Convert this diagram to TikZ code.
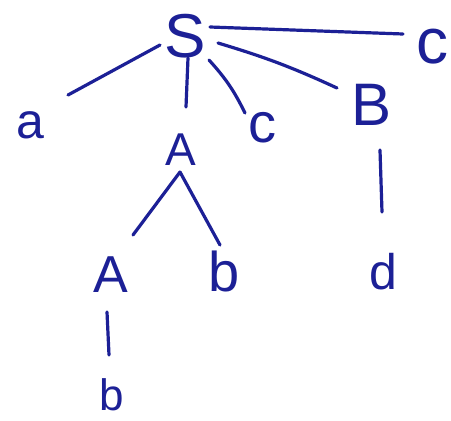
\documentclass[tikz,border=0pt]{standalone}
\usepackage{fontspec}
\setmainfont{Liberation Sans}
\definecolor{ink}{RGB}{28,32,150}
\begin{document}
\begin{tikzpicture}[x=1pt,y=-1pt,
  lbl/.style={inner sep=0pt,text=ink},
  edge/.style={draw=ink,line width=3.2pt,line cap=round,line join=round}]
\useasboundingbox[fill=white] (0,0) rectangle (451,421);
\node[lbl,font=\fontsize{62}{62}\selectfont] (S) at (185,36) {S};
\node[lbl,font=\fontsize{64}{64}\selectfont] (c1) at (432,47) {c};
\node[lbl,font=\fontsize{50}{50}\selectfont] (a) at (30,125) {a};
\node[lbl,font=\fontsize{46}{46}\selectfont] (A1) at (181,150) {A};
\node[lbl,font=\fontsize{56}{56}\selectfont] (c2) at (262,128) {c};
\node[lbl,font=\fontsize{60}{60}\selectfont] (B) at (372,105) {B};
\node[lbl,font=\fontsize{52}{52}\selectfont] (A2) at (111,275) {A};
\node[lbl,font=\fontsize{56}{56}\selectfont] (b1) at (224,271) {b};
\node[lbl,font=\fontsize{50}{50}\selectfont] (d) at (383,272) {d};
\node[lbl,font=\fontsize{44}{44}\selectfont] (b2) at (112,395) {b};
\draw[edge] ([shift={(-25,9)}]S.center) -- ([shift={(38,-30)}]a.center);
\draw[edge] ([shift={(25,-9)}]S.center) -- ([shift={(-29,-13)}]c1.center);
\draw[edge] ([shift={(3,22)}]S.center) -- ([shift={(5,-43)}]A1.center);
\draw[edge] ([shift={(24,24)}]S.center) to[bend left=8] ([shift={(-17,-15)}]c2.center);
\draw[edge] ([shift={(33,7)}]S.center) to[bend left=4] ([shift={(-35,-17)}]B.center);
\draw[edge] ([shift={(-1,22)}]A1.center) -- ([shift={(22,-40)}]A2.center);
\draw[edge] ([shift={(-1,22)}]A1.center) -- ([shift={(-4,-26)}]b1.center);
\draw[edge] ([shift={(8,45)}]B.center) -- ([shift={(-1,-60)}]d.center);
\draw[edge] ([shift={(-4,37)}]A2.center) -- ([shift={(-3,-40)}]b2.center);
\end{tikzpicture}
\end{document}
